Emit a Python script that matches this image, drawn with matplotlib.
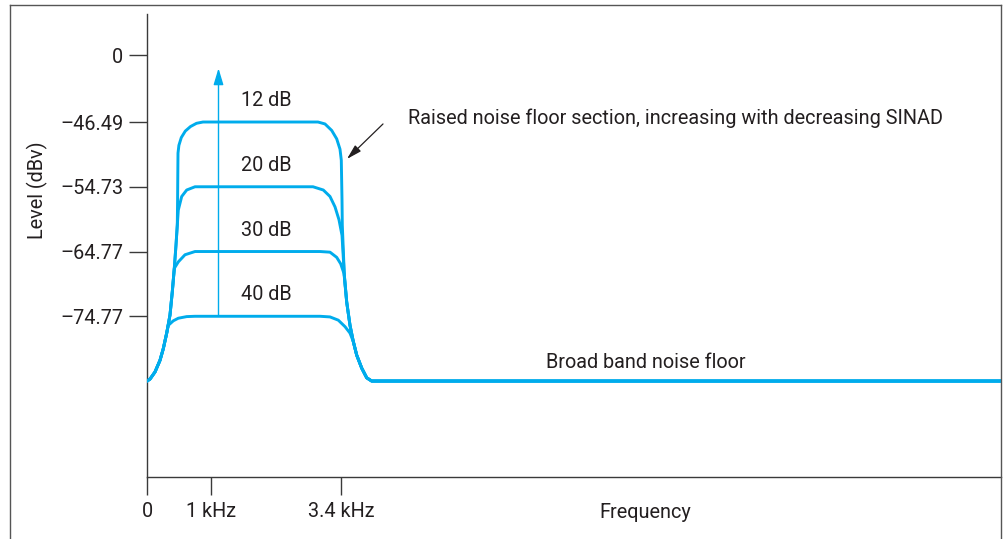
import matplotlib
matplotlib.use("Agg")
import matplotlib.pyplot as plt
from matplotlib.lines import Line2D

FONT = ['Roboto', 'DejaVu Sans']
plt.rcParams['font.family'] = FONT
FS = 14.3

# ---------------- data (schematic units) ----------------
# y tick labels (dBV) and their schematic levels
y_tick_labels = ["\u201374.77", "\u201364.77", "\u201354.73", "\u201346.49", "0"]
y_tick_levels = [2.5, 3.5, 4.5, 5.5, 6.53]

x_tick_labels = ["0", "1 kHz", "3.4 kHz"]
x_tick_pos = [0.0, 6.4, 19.4]

sinad_labels = ["12 dB", "20 dB", "30 dB", "40 dB"]
sinad_levels = [5.5, 4.5, 3.5, 2.5]

# shared envelope: rise from broad-band floor and fall back to it
rise_x = [0, 0.3, 0.8, 1.3, 1.63, 1.97, 2.3, 2.53, 2.73, 2.9, 3.03, 3.06, 3.08, 3.1]
rise_y = [1.5, 1.53, 1.64, 1.82, 2.0, 2.24, 2.52, 2.88, 3.24, 3.6, 3.91, 4.3, 4.68, 5.02]
fall_x = [19.43, 19.5, 19.53, 19.73, 19.97, 20.3, 20.63, 20.97, 21.47, 21.97, 22.47, 85.4]
fall_y = [4.91, 4.3, 3.91, 3.14, 2.72, 2.36, 2.11, 1.9, 1.7, 1.55, 1.5, 1.5]

# top sections of each curve (between leaving the rise and joining the fall)
top_12_x = [3.19, 3.43, 3.83, 4.35, 4.95, 5.6, 17.1, 17.8, 18.47, 18.97, 19.3]
top_12_y = [5.14, 5.26, 5.36, 5.43, 5.48, 5.5, 5.5, 5.47, 5.37, 5.24, 5.08]
top_20_x = [3.13, 3.47, 3.97, 4.8, 16.6, 17.63, 18.3, 18.8, 19.2, 19.5]
top_20_y = [4.14, 4.35, 4.45, 4.5, 4.5, 4.45, 4.35, 4.19, 3.99, 3.75]
top_30_x = [3.13, 3.8, 4.8, 17.3, 18.3, 18.97, 19.37, 19.7]
top_30_y = [3.34, 3.45, 3.5, 3.5, 3.49, 3.41, 3.31, 3.16]
top_40_x = [2.13, 2.63, 3.13, 3.97, 4.8, 17.3, 18.3, 19.13, 19.8, 20.3]
top_40_y = [2.36, 2.43, 2.47, 2.495, 2.5, 2.5, 2.49, 2.44, 2.34, 2.24]

# index where each curve leaves the rise / joins the fall
rise_end = [len(rise_x), 11, 9, 6]
fall_start = [0, 3, 4, 6]
tops = [(top_12_x, top_12_y), (top_20_x, top_20_y), (top_30_x, top_30_y), (top_40_x, top_40_y)]

BLUE = "#00acec"
DARK = "#231f20"
AXC = "#3a3a3a"

fig = plt.figure(figsize=(10.08, 5.39), dpi=100)
ax = fig.add_axes([147 / 1008, 1 - 477 / 539, (1001 - 147) / 1008, (477 - 14) / 539])

for (tx, ty), re, fs in zip(tops, rise_end, fall_start):
    xs = rise_x[:re] + tx + fall_x[fs:]
    ys = rise_y[:re] + ty + fall_y[fs:]
    ax.plot(xs, ys, color=BLUE, lw=2.1, solid_joinstyle='round', solid_capstyle='round', zorder=3)

# SINAD labels
for lab, lev in zip(sinad_labels, sinad_levels):
    ax.text(11.9, lev + 0.33, lab, ha='center', va='center', fontsize=FS, color=DARK)

# blue vertical arrow
ax.annotate('', xy=(7.15, 6.33), xytext=(7.15, 2.5),
            arrowprops=dict(arrowstyle='-|>,head_length=1.0,head_width=0.3',
                            color=BLUE, lw=1.0, mutation_scale=10, shrinkA=0, shrinkB=0),
            zorder=4)

# annotation for raised noise floor
ax.annotate('', xy=(20.0, 4.93), xytext=(23.6, 5.47),
            arrowprops=dict(arrowstyle='-|>,head_length=0.9,head_width=0.25',
                            color=DARK, lw=0.9, mutation_scale=10, shrinkA=0, shrinkB=0))
ax.text(26.1, 5.56, "Raised noise floor section, increasing with decreasing SINAD",
        ha='left', va='center', fontsize=FS, color=DARK)
ax.text(39.9, 1.78, "Broad band noise floor", ha='left', va='center', fontsize=FS, color=DARK)

ax.set_xlim(0, 85.4)
ax.set_ylim(0.018, 7.168)

ax.set_xticks(x_tick_pos)
ax.set_xticklabels(x_tick_labels)
ax.set_yticks(y_tick_levels)
ax.set_yticklabels(y_tick_labels)
ax.tick_params(axis='both', direction='out', length=13, width=1.0, color=AXC,
               labelsize=FS, labelcolor=DARK)
ax.tick_params(axis='y', pad=4)
ax.tick_params(axis='x', pad=5)

for s in ['top', 'right']:
    ax.spines[s].set_visible(False)
for s in ['left', 'bottom']:
    ax.spines[s].set_color(AXC)
    ax.spines[s].set_linewidth(1.0)

fig.text(645 / 1008, 1 - 513 / 539, "Frequency", ha='center', va='center', fontsize=FS, color=DARK)
fig.text(37 / 1008, 1 - 190 / 539, "Level (dBv)", ha='center', va='center', rotation=90,
         fontsize=FS, color=DARK)

# outer frame (open at the bottom)
FC = "#555555"
fig.add_artist(Line2D([10 / 1008, 10 / 1008], [0, 1 - 5 / 539], color=FC, lw=1.0,
                      transform=fig.transFigure))
fig.add_artist(Line2D([10 / 1008, 1001 / 1008], [1 - 5 / 539, 1 - 5 / 539], color=FC, lw=1.0,
                      transform=fig.transFigure))
fig.add_artist(Line2D([1001 / 1008, 1001 / 1008], [0, 1 - 5 / 539], color=FC, lw=1.0,
                      transform=fig.transFigure))

fig.savefig("out.png", dpi=100)
